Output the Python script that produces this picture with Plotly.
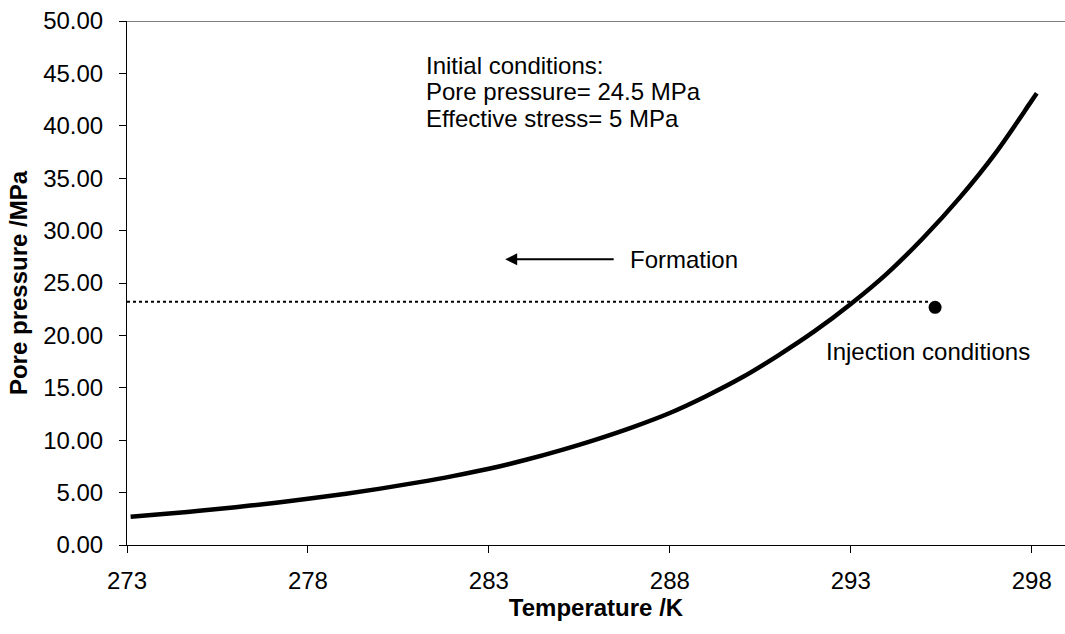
import plotly.graph_objects as go

# Hydrate equilibrium curve: temperature (K) vs pore pressure (MPa)
temperature = [273.1, 274, 275, 276, 277, 278, 279, 280, 281, 282, 283, 284, 285,
               286, 287, 288, 289, 290, 291, 292, 293, 294, 295, 296, 297, 298, 298.14]
pore_pressure = [2.70, 2.95, 3.26, 3.61, 3.99, 4.41, 4.87, 5.38, 5.95, 6.57, 7.27, 8.11, 9.06,
                 10.11, 11.28, 12.60, 14.20, 16.00, 18.10, 20.40, 23.00, 25.90, 29.30, 33.10,
                 37.40, 42.40, 43.10]

# Injection path (dotted) and injection point
injection_line_t = [273.0, 295.2]
injection_line_p = [23.2, 23.2]
injection_point_t = [295.33]
injection_point_p = [22.68]

# Formation arrow (tail -> head)
arrow_tail = (286.49, 27.26)
arrow_head = (283.45, 27.26)

x_ticks = [273, 278, 283, 288, 293, 298]
y_ticks = [0, 5, 10, 15, 20, 25, 30, 35, 40, 45, 50]

initial_lines = ["Initial conditions:", "Pore pressure= 24.5 MPa", "Effective stress= 5 MPa"]
initial_y = [45.8, 43.23, 40.74]

FONT = "Liberation Sans, Arial, sans-serif"

fig = go.Figure()

fig.add_trace(go.Scatter(
    x=injection_line_t, y=injection_line_p, mode="lines",
    line=dict(color="black", width=2, dash="dot"), showlegend=False, hoverinfo="skip"))

fig.add_trace(go.Scatter(
    x=temperature, y=pore_pressure, mode="lines",
    line=dict(color="black", width=4.5, shape="spline"), showlegend=False))

fig.add_trace(go.Scatter(
    x=injection_point_t, y=injection_point_p, mode="markers",
    marker=dict(color="black", size=13), showlegend=False))

annotations = []
for txt, yy in zip(initial_lines, initial_y):
    annotations.append(dict(x=281.22, y=yy, xref="x", yref="y", text=txt, showarrow=False,
                            xanchor="left", yanchor="middle", font=dict(size=24, color="black")))

annotations.append(dict(x=286.84, y=27.29, xref="x", yref="y", text="Formation", showarrow=False,
                        xanchor="left", yanchor="middle", font=dict(size=24, color="black")))
annotations.append(dict(x=292.26, y=18.42, xref="x", yref="y", text="Injection conditions",
                        showarrow=False, xanchor="left", yanchor="middle",
                        font=dict(size=24, color="black")))
annotations.append(dict(x=arrow_head[0], y=arrow_head[1], ax=arrow_tail[0], ay=arrow_tail[1],
                        xref="x", yref="y", axref="x", ayref="y", text="", showarrow=True,
                        arrowhead=2, arrowsize=1.2, arrowwidth=2, arrowcolor="black"))

fig.update_layout(
    width=1065, height=634,
    margin=dict(l=127, r=0, t=21, b=89),
    paper_bgcolor="white", plot_bgcolor="white",
    font=dict(family=FONT, size=24, color="black"),
    annotations=annotations,
    shapes=[dict(type="line", xref="paper", yref="y", x0=0, x1=1, y0=50, y1=50,
                 line=dict(color="#808080", width=2))],
    xaxis=dict(range=[273, 298.92], tickvals=x_ticks, ticktext=[str(v) for v in x_ticks],
               showgrid=False, zeroline=False, showline=True, linecolor="black", linewidth=1,
               ticks="outside", ticklen=7, tickcolor="black", ticklabelstandoff=7,
               title=dict(text="<b>Temperature /K</b>", font=dict(size=24), standoff=5)),
    yaxis=dict(range=[0, 50], tickvals=y_ticks, ticktext=[f"{v:.2f}" for v in y_ticks],
               showgrid=False, zeroline=False, showline=True, linecolor="black", linewidth=1,
               ticks="outside", ticklen=7, tickcolor="black", ticklabelstandoff=11,
               title=dict(text="<b>Pore pressure /MPa</b>", font=dict(size=24), standoff=8)),
)

fig.write_html("out.html")
